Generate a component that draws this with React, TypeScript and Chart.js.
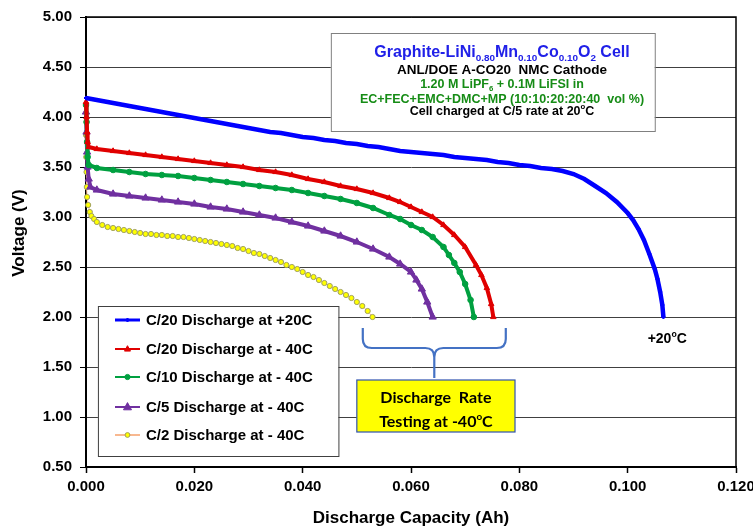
import React, { useEffect, useRef } from "react";
import { Chart, registerables } from "chart.js";

Chart.register(...registerables);

// ---------- DATA ----------
const xTicks = [0, 0.02, 0.04, 0.06, 0.08, 0.1, 0.12];
const yTicks = [0.5, 1, 1.5, 2, 2.5, 3, 3.5, 4, 4.5, 5];

const seriesNames = [
  "C/20 Discharge at +20C",
  "C/20 Discharge at - 40C",
  "C/10 Discharge at - 40C",
  "C/5 Discharge at - 40C",
  "C/2 Discharge at - 40C",
];

const c20WarmCap = [0, 0.002, 0.004, 0.006, 0.008, 0.01, 0.012, 0.014, 0.016, 0.018, 0.02, 0.022, 0.024, 0.026, 0.028, 0.03, 0.032, 0.034, 0.036, 0.038, 0.04, 0.042, 0.044, 0.046, 0.048, 0.05, 0.052, 0.054, 0.056, 0.058, 0.06, 0.062, 0.064, 0.066, 0.068, 0.07, 0.072, 0.074, 0.076, 0.078, 0.08, 0.082, 0.084, 0.086, 0.088, 0.09, 0.092, 0.094, 0.096, 0.098, 0.1, 0.101, 0.102, 0.103, 0.104, 0.105, 0.1055, 0.106, 0.1064, 0.1066];
const c20WarmV = [4.19, 4.17, 4.15, 4.13, 4.11, 4.09, 4.07, 4.05, 4.03, 4.01, 3.99, 3.97, 3.95, 3.93, 3.91, 3.89, 3.87, 3.85, 3.84, 3.82, 3.8, 3.79, 3.77, 3.76, 3.74, 3.73, 3.71, 3.7, 3.68, 3.66, 3.65, 3.64, 3.63, 3.62, 3.6, 3.59, 3.58, 3.57, 3.55, 3.54, 3.52, 3.51, 3.49, 3.48, 3.46, 3.43, 3.38, 3.31, 3.24, 3.15, 3.04, 2.97, 2.88, 2.77, 2.63, 2.48, 2.38, 2.25, 2.12, 2.0];

const c20ColdCap = [0, 0.0001, 0.0002, 0.0003, 0.0005, 0.002, 0.005, 0.008, 0.011, 0.014, 0.017, 0.02, 0.023, 0.026, 0.029, 0.032, 0.035, 0.038, 0.041, 0.044, 0.047, 0.05, 0.053, 0.056, 0.058, 0.06, 0.062, 0.064, 0.066, 0.068, 0.07, 0.072, 0.073, 0.074, 0.0748, 0.0752];
const c20ColdV = [4.15, 4.0, 3.85, 3.75, 3.7, 3.68, 3.66, 3.64, 3.62, 3.6, 3.58, 3.56, 3.54, 3.52, 3.5, 3.47, 3.45, 3.42, 3.38, 3.35, 3.31, 3.28, 3.24, 3.19, 3.15, 3.1, 3.05, 3.0, 2.92, 2.82, 2.7, 2.52, 2.42, 2.29, 2.13, 2.0];

const c10ColdCap = [0, 0.0001, 0.0002, 0.0003, 0.0005, 0.002, 0.005, 0.008, 0.011, 0.014, 0.017, 0.02, 0.023, 0.026, 0.029, 0.032, 0.035, 0.038, 0.041, 0.044, 0.047, 0.05, 0.053, 0.056, 0.058, 0.06, 0.062, 0.064, 0.066, 0.067, 0.068, 0.069, 0.07, 0.071, 0.0716];
const c10ColdV = [4.12, 3.95, 3.75, 3.6, 3.52, 3.49, 3.47, 3.45, 3.43, 3.42, 3.41, 3.39, 3.37, 3.35, 3.33, 3.31, 3.29, 3.27, 3.24, 3.21, 3.18, 3.14, 3.09, 3.02, 2.98, 2.92, 2.87, 2.8, 2.7, 2.62, 2.54, 2.45, 2.33, 2.17, 2.0];

const c5ColdCap = [0, 0.0001, 0.0002, 0.0003, 0.0005, 0.0008, 0.002, 0.005, 0.008, 0.011, 0.014, 0.017, 0.02, 0.023, 0.026, 0.029, 0.032, 0.035, 0.038, 0.041, 0.044, 0.047, 0.05, 0.053, 0.056, 0.058, 0.06, 0.061, 0.062, 0.063, 0.064];
const c5ColdV = [4.05, 3.85, 3.65, 3.5, 3.38, 3.3, 3.27, 3.23, 3.21, 3.19, 3.17, 3.15, 3.13, 3.1, 3.08, 3.05, 3.02, 2.99, 2.95, 2.91, 2.86, 2.81, 2.75, 2.68, 2.6, 2.53, 2.45, 2.37, 2.28, 2.15, 2.0];

const c2ColdCap = [0, 0.00005, 0.0001, 0.00015, 0.0002, 0.0004, 0.0007, 0.001, 0.0015, 0.002, 0.003, 0.004, 0.005, 0.006, 0.007, 0.008, 0.009, 0.01, 0.011, 0.012, 0.013, 0.014, 0.015, 0.016, 0.017, 0.018, 0.019, 0.02, 0.021, 0.022, 0.023, 0.024, 0.025, 0.026, 0.027, 0.028, 0.029, 0.03, 0.031, 0.032, 0.033, 0.034, 0.035, 0.036, 0.037, 0.038, 0.039, 0.04, 0.041, 0.042, 0.043, 0.044, 0.045, 0.046, 0.047, 0.048, 0.049, 0.05, 0.051, 0.052, 0.0529];
const c2ColdV = [3.82, 3.6, 3.45, 3.3, 3.2, 3.12, 3.05, 3.01, 2.98, 2.95, 2.92, 2.9, 2.89, 2.88, 2.87, 2.86, 2.85, 2.84, 2.83, 2.83, 2.82, 2.82, 2.81, 2.81, 2.8, 2.8, 2.79, 2.78, 2.77, 2.76, 2.75, 2.74, 2.73, 2.72, 2.71, 2.69, 2.68, 2.66, 2.64, 2.63, 2.61, 2.59, 2.57, 2.55, 2.52, 2.5, 2.48, 2.45, 2.42, 2.4, 2.37, 2.34, 2.31, 2.28, 2.25, 2.22, 2.19, 2.15, 2.11, 2.06, 2.0];

// ---------- STYLES ----------
const FONT = "'Liberation Sans', Arial, sans-serif";
const styles = [
  { line: "#0000FF", fill: "#0000FF", border: "#0000FF", point: "rectRot", r: 2, lw: 4.5 },
  { line: "#E00000", fill: "#E00000", border: "#E00000", point: "triangle", r: 3.2, lw: 4 },
  { line: "#00A040", fill: "#00A040", border: "#00A040", point: "circle", r: 2.8, lw: 4 },
  { line: "#7030A0", fill: "#7030A0", border: "#7030A0", point: "triangle", r: 4.2, lw: 4 },
  { line: "#F8B890", fill: "#FFFF00", border: "#A0A060", point: "circle", r: 2.6, lw: 1 },
];

function zip(xs: number[], ys: number[]) {
  return xs.map((x, i) => ({ x, y: ys[i] }));
}

type Seg = { t: string; s?: "sub" | "sup" };

function drawRich(ctx: CanvasRenderingContext2D, segs: Seg[], cx: number, cy: number, size: number, color: string, family: string) {
  const small = size * 0.62;
  let w = 0;
  for (const sg of segs) {
    ctx.font = `bold ${sg.s ? small : size}px ${family}`;
    w += ctx.measureText(sg.t).width;
  }
  let x = cx - w / 2;
  const base = cy + size * 0.36;
  ctx.fillStyle = color;
  ctx.textAlign = "left";
  ctx.textBaseline = "alphabetic";
  for (const sg of segs) {
    ctx.font = `bold ${sg.s ? small : size}px ${family}`;
    const y = base + (sg.s === "sub" ? size * 0.22 : sg.s === "sup" ? -size * 0.42 : 0);
    ctx.fillText(sg.t, x, y);
    x += ctx.measureText(sg.t).width;
  }
}

function drawMarker(ctx: CanvasRenderingContext2D, st: any, x: number, y: number) {
  ctx.save();
  ctx.fillStyle = st.fill;
  ctx.strokeStyle = st.border;
  ctx.lineWidth = 1;
  const r = st.r + 0.5;
  ctx.beginPath();
  if (st.point === "circle") {
    ctx.arc(x, y, r, 0, Math.PI * 2);
  } else if (st.point === "triangle") {
    ctx.moveTo(x, y - r * 1.1);
    ctx.lineTo(x + r, y + r * 0.7);
    ctx.lineTo(x - r, y + r * 0.7);
    ctx.closePath();
  } else {
    ctx.moveTo(x, y - r);
    ctx.lineTo(x + r, y);
    ctx.lineTo(x, y + r);
    ctx.lineTo(x - r, y);
    ctx.closePath();
  }
  ctx.fill();
  ctx.stroke();
  ctx.restore();
}

const overlay = {
  id: "overlay",
  afterDraw(chart: any) {
    const ctx: CanvasRenderingContext2D = chart.ctx;
    const { left, right, top, bottom } = chart.chartArea;
    const xs = chart.scales.x;
    const ys = chart.scales.y;
    const px = (v: number) => xs.getPixelForValue(v);
    const py = (v: number) => ys.getPixelForValue(v);
    ctx.save();

    // plot frame (top & right)
    ctx.strokeStyle = "#000";
    ctx.lineWidth = 1.5;
    ctx.beginPath();
    ctx.moveTo(left, top);
    ctx.lineTo(right, top);
    ctx.lineTo(right, bottom);
    ctx.stroke();

    // axis titles
    ctx.fillStyle = "#000";
    ctx.font = `bold 17px ${FONT}`;
    ctx.textAlign = "center";
    ctx.textBaseline = "middle";
    ctx.fillText("Discharge Capacity (Ah)", (left + right) / 2, bottom + 51);
    ctx.save();
    ctx.translate(19, 233);
    ctx.rotate(-Math.PI / 2);
    ctx.fillText("Voltage (V)", 0, 0);
    ctx.restore();

    // info box
    const bx1 = px(0.0452), bx2 = px(0.105), by1 = py(4.84), by2 = py(3.86);
    ctx.fillStyle = "#fff";
    ctx.fillRect(bx1, by1, bx2 - bx1, by2 - by1);
    ctx.strokeStyle = "#808080";
    ctx.lineWidth = 1;
    ctx.strokeRect(bx1 + 0.5, by1 + 0.5, bx2 - bx1, by2 - by1);
    const tcx = px(0.0768);
    drawRich(ctx, [{ t: "Graphite-LiNi" }, { t: "0.80", s: "sub" }, { t: "Mn" }, { t: "0.10", s: "sub" }, { t: "Co" }, { t: "0.10", s: "sub" }, { t: "O" }, { t: "2", s: "sub" }, { t: " Cell" }], tcx, py(4.653), 16, "#2020E8", FONT);
    drawRich(ctx, [{ t: "ANL/DOE A-CO20  NMC Cathode" }], tcx, py(4.48), 13.5, "#000", FONT);
    drawRich(ctx, [{ t: "1.20 M LiPF" }, { t: "6", s: "sub" }, { t: " + 0.1M LiFSI in" }], tcx, py(4.337), 12.5, "#168C16", FONT);
    drawRich(ctx, [{ t: "EC+FEC+EMC+DMC+MP (10:10:20:20:40  vol %)" }], tcx, py(4.187), 12.5, "#168C16", FONT);
    drawRich(ctx, [{ t: "Cell charged at C/5 rate at 20" }, { t: "o", s: "sup" }, { t: "C" }], tcx, py(4.07), 12.5, "#000", FONT);

    // legend
    const lx1 = px(0.0022), lx2 = px(0.0466), ly1 = py(2.11), ly2 = py(0.61);
    ctx.fillStyle = "#fff";
    ctx.fillRect(lx1, ly1, lx2 - lx1, ly2 - ly1);
    ctx.strokeStyle = "#404040";
    ctx.lineWidth = 1;
    ctx.strokeRect(lx1 + 0.5, ly1 + 0.5, lx2 - lx1, ly2 - ly1);
    const rowsV = [1.97, 1.68, 1.4, 1.1, 0.82];
    const sx1 = px(0.00535), sx2 = px(0.00997), tx = px(0.01108);
    seriesNames.forEach((name, i) => {
      const st = styles[i];
      const y = py(rowsV[i]);
      ctx.strokeStyle = st.line;
      ctx.lineWidth = i === 0 ? 3 : 2;
      ctx.beginPath();
      ctx.moveTo(sx1, y);
      ctx.lineTo(sx2, y);
      ctx.stroke();
      drawMarker(ctx, { ...st, r: i === 0 ? 1.5 : st.r - 0.7 }, (sx1 + sx2) / 2, y);
      ctx.fillStyle = "#000";
      ctx.font = `bold 15px ${FONT}`;
      ctx.textAlign = "left";
      ctx.textBaseline = "middle";
      ctx.fillText(name, tx, y + 1);
    });

    // brace
    const bl = px(0.0511), br = px(0.0775), bm = px(0.0643);
    const bt = py(1.89), bh = py(1.69), bs = py(1.39);
    const rr = 9;
    ctx.strokeStyle = "#4472C4";
    ctx.lineWidth = 2.2;
    ctx.beginPath();
    ctx.moveTo(bl, bt);
    ctx.lineTo(bl, bh - rr);
    ctx.quadraticCurveTo(bl, bh, bl + rr, bh);
    ctx.lineTo(bm - rr, bh);
    ctx.quadraticCurveTo(bm, bh, bm, bh + rr);
    ctx.lineTo(bm, bs);
    ctx.moveTo(bm, bh + rr);
    ctx.quadraticCurveTo(bm, bh, bm + rr, bh);
    ctx.lineTo(br - rr, bh);
    ctx.quadraticCurveTo(br, bh, br, bh - rr);
    ctx.lineTo(br, bt);
    ctx.stroke();

    // yellow box
    const yx1 = px(0.05), yx2 = px(0.0792), yy1 = py(1.37), yy2 = py(0.85);
    ctx.fillStyle = "#FFFF00";
    ctx.fillRect(yx1, yy1, yx2 - yx1, yy2 - yy1);
    ctx.strokeStyle = "#2F52B0";
    ctx.lineWidth = 1.2;
    ctx.strokeRect(yx1, yy1, yx2 - yx1, yy2 - yy1);
    const ycx = (yx1 + yx2) / 2;
    drawRich(ctx, [{ t: "Discharge  Rate" }], ycx, py(1.2), 16, "#000", "Lato, 'Open Sans', sans-serif");
    drawRich(ctx, [{ t: "Testing at -40" }, { t: "o", s: "sup" }, { t: "C" }], ycx, py(0.96), 16, "#000", "Lato, 'Open Sans', sans-serif");

    // +20C label
    drawRich(ctx, [{ t: "+20" }, { t: "o", s: "sup" }, { t: "C" }], px(0.1073), py(1.79), 14, "#000", FONT);

    ctx.restore();
  },
};

export default function App() {
  const ref = useRef<HTMLCanvasElement | null>(null);
  useEffect(() => {
    document.body.style.margin = "0";
    const canvas = ref.current;
    if (!canvas) return;
    const all = [
      zip(c20WarmCap, c20WarmV),
      zip(c20ColdCap, c20ColdV),
      zip(c10ColdCap, c10ColdV),
      zip(c5ColdCap, c5ColdV),
      zip(c2ColdCap, c2ColdV),
    ];
    const chart = new Chart(canvas, {
      type: "scatter",
      data: {
        datasets: all.map((d, i) => ({
          label: seriesNames[i],
          data: d,
          showLine: true,
          borderColor: styles[i].line,
          borderWidth: styles[i].lw,
          backgroundColor: styles[i].fill,
          pointBackgroundColor: styles[i].fill,
          pointBorderColor: styles[i].border,
          pointBorderWidth: 1,
          pointStyle: styles[i].point as any,
          pointRadius: styles[i].r,
          clip: false as any,
          tension: 0,
        })),
      },
      options: {
        animation: false,
        responsive: false,
        devicePixelRatio: 1,
        layout: { padding: { left: 0, right: 17, top: 17, bottom: 0 } },
        plugins: { legend: { display: false }, tooltip: { enabled: false } },
        scales: {
          x: {
            type: "linear",
            min: xTicks[0],
            max: xTicks[xTicks.length - 1],
            afterBuildTicks: (s: any) => {
              s.ticks = xTicks.map((v) => ({ value: v }));
            },
            ticks: {
              callback: (v: any) => Number(v).toFixed(3),
              font: { family: FONT, weight: "bold", size: 15 },
              color: "#000",
              padding: 5,
              maxRotation: 0,
              autoSkip: false,
            },
            grid: { drawOnChartArea: false, tickLength: 6, tickColor: "#000", color: "#000", tickWidth: 1.5 },
            border: { color: "#000", width: 2 },
            afterFit: (s: any) => {
              s.height = 59;
              s.paddingLeft = 0;
              s.paddingRight = 0;
            },
          },
          y: {
            min: yTicks[0],
            max: yTicks[yTicks.length - 1],
            afterBuildTicks: (s: any) => {
              s.ticks = yTicks.map((v) => ({ value: v }));
            },
            ticks: {
              callback: (v: any) => Number(v).toFixed(2),
              font: { family: FONT, weight: "bold", size: 15 },
              color: "#000",
              padding: 8,
              autoSkip: false,
            },
            grid: { color: "#404040", lineWidth: 1, tickLength: 6, tickColor: "#000" },
            border: { color: "#000", width: 2 },
            afterFit: (s: any) => {
              s.width = 86;
              s.paddingTop = 0;
              s.paddingBottom = 0;
            },
          },
        },
      },
      plugins: [overlay],
    });
    return () => chart.destroy();
  }, []);
  return (
    <div style={{ width: 753, height: 526, background: "#fff" }}>
      <canvas ref={ref} width={753} height={526} style={{ display: "block", width: 753, height: 526 }} />
    </div>
  );
}
